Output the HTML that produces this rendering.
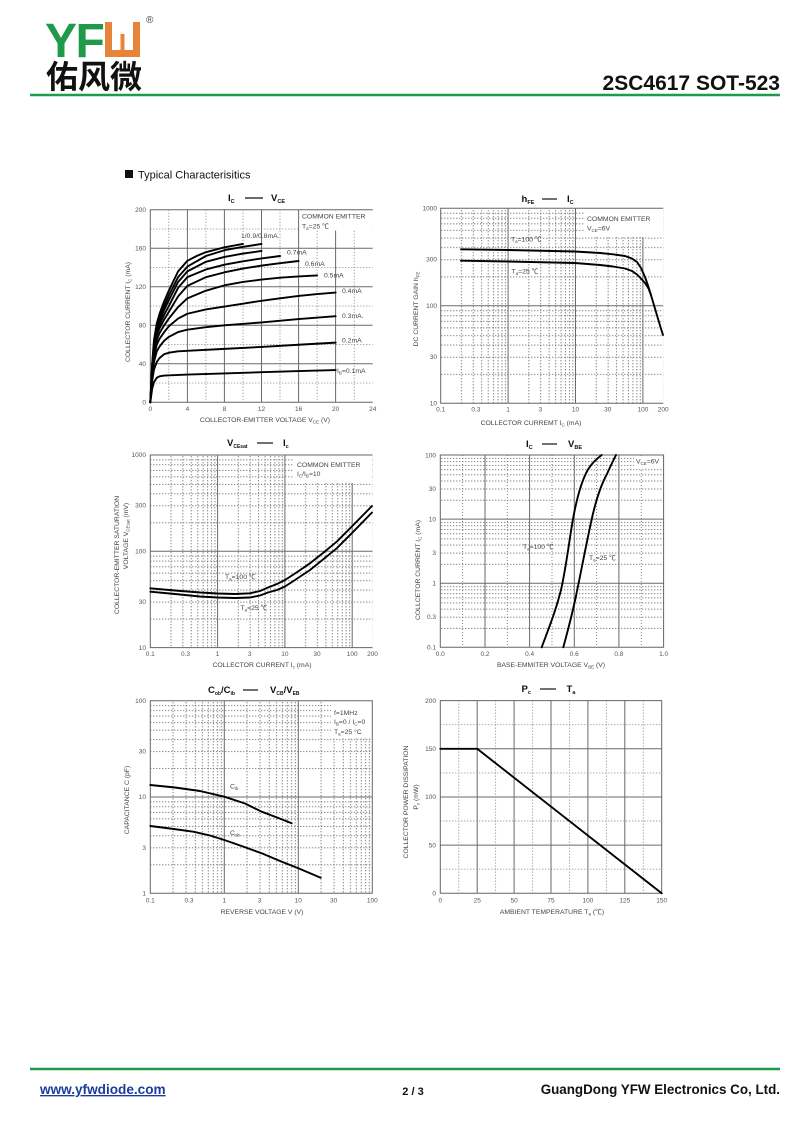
<!DOCTYPE html>
<html><head><meta charset="utf-8">
<style>
html,body{margin:0;padding:0;background:#fff;}
body{width:800px;height:1130px;overflow:hidden;}
svg{display:block;font-family:"Liberation Sans","Noto Sans CJK SC",sans-serif;}
.t{font-size:6.5px;fill:#555;}
.a{font-size:6.8px;fill:#444;}
.n{font-size:6.8px;fill:#444;}
.ti{font-size:9.5px;font-weight:bold;fill:#111;}
.mj{stroke:#6a6a6a;stroke-width:1;fill:none;}
.dt{stroke:#7a7a7a;stroke-width:0.9;stroke-dasharray:1 2;fill:none;}
.bx{stroke:#666;stroke-width:1;fill:none;}
.cv{stroke:#000;stroke-width:1.9;fill:none;stroke-linejoin:round;stroke-linecap:round;}
.cvs{stroke:#000;stroke-width:1.9;fill:none;stroke-linejoin:round;stroke-linecap:round;vector-effect:non-scaling-stroke;}
</style></head>
<body>
<svg width="800" height="1130" viewBox="0 0 800 1130" xmlns="http://www.w3.org/2000/svg">
<defs>
<pattern id="p2x" x="440.7" y="0" width="67.4" height="3" patternUnits="userSpaceOnUse">
<g fill="#7a7a7a"><rect x="20.29" y="0" width="0.9" height="1.4"/><rect x="32.16" y="0" width="0.9" height="1.4"/><rect x="40.58" y="0" width="0.9" height="1.4"/><rect x="47.11" y="0" width="0.9" height="1.4"/><rect x="52.45" y="0" width="0.9" height="1.4"/><rect x="56.96" y="0" width="0.9" height="1.4"/><rect x="60.87" y="0" width="0.9" height="1.4"/><rect x="64.32" y="0" width="0.9" height="1.4"/></g>
</pattern>
<pattern id="p2y" x="0" y="208.3" width="3" height="97.5" patternUnits="userSpaceOnUse">
<g fill="#7a7a7a"><rect y="68.15" x="0" height="0.9" width="1.4"/><rect y="50.98" x="0" height="0.9" width="1.4"/><rect y="38.80" x="0" height="0.9" width="1.4"/><rect y="29.35" x="0" height="0.9" width="1.4"/><rect y="21.63" x="0" height="0.9" width="1.4"/><rect y="15.10" x="0" height="0.9" width="1.4"/><rect y="9.45" x="0" height="0.9" width="1.4"/><rect y="4.46" x="0" height="0.9" width="1.4"/></g>
</pattern>
<pattern id="p3x" x="150.3" y="0" width="67.3" height="3" patternUnits="userSpaceOnUse">
<g fill="#7a7a7a"><rect x="20.26" y="0" width="0.9" height="1.4"/><rect x="32.11" y="0" width="0.9" height="1.4"/><rect x="40.52" y="0" width="0.9" height="1.4"/><rect x="47.04" y="0" width="0.9" height="1.4"/><rect x="52.37" y="0" width="0.9" height="1.4"/><rect x="56.88" y="0" width="0.9" height="1.4"/><rect x="60.78" y="0" width="0.9" height="1.4"/><rect x="64.22" y="0" width="0.9" height="1.4"/></g>
</pattern>
<pattern id="p3y" x="0" y="455" width="3" height="96.3" patternUnits="userSpaceOnUse">
<g fill="#7a7a7a"><rect y="67.31" x="0" height="0.9" width="1.4"/><rect y="50.35" x="0" height="0.9" width="1.4"/><rect y="38.32" x="0" height="0.9" width="1.4"/><rect y="28.99" x="0" height="0.9" width="1.4"/><rect y="21.36" x="0" height="0.9" width="1.4"/><rect y="14.92" x="0" height="0.9" width="1.4"/><rect y="9.33" x="0" height="0.9" width="1.4"/><rect y="4.41" x="0" height="0.9" width="1.4"/></g>
</pattern>
<pattern id="p4y" x="0" y="455" width="3" height="64.1" patternUnits="userSpaceOnUse">
<g fill="#7a7a7a"><rect y="44.80" x="0" height="0.9" width="1.4"/><rect y="33.52" x="0" height="0.9" width="1.4"/><rect y="25.51" x="0" height="0.9" width="1.4"/><rect y="19.30" x="0" height="0.9" width="1.4"/><rect y="14.22" x="0" height="0.9" width="1.4"/><rect y="9.93" x="0" height="0.9" width="1.4"/><rect y="6.21" x="0" height="0.9" width="1.4"/><rect y="2.93" x="0" height="0.9" width="1.4"/></g>
</pattern>
<pattern id="p5x" x="150.3" y="0" width="74" height="3" patternUnits="userSpaceOnUse">
<g fill="#7a7a7a"><rect x="22.28" y="0" width="0.9" height="1.4"/><rect x="35.31" y="0" width="0.9" height="1.4"/><rect x="44.55" y="0" width="0.9" height="1.4"/><rect x="51.72" y="0" width="0.9" height="1.4"/><rect x="57.58" y="0" width="0.9" height="1.4"/><rect x="62.54" y="0" width="0.9" height="1.4"/><rect x="66.83" y="0" width="0.9" height="1.4"/><rect x="70.61" y="0" width="0.9" height="1.4"/></g>
</pattern>
<pattern id="p5y" x="0" y="700.7" width="3" height="96.3" patternUnits="userSpaceOnUse">
<g fill="#7a7a7a"><rect y="67.31" x="0" height="0.9" width="1.4"/><rect y="50.35" x="0" height="0.9" width="1.4"/><rect y="38.32" x="0" height="0.9" width="1.4"/><rect y="28.99" x="0" height="0.9" width="1.4"/><rect y="21.36" x="0" height="0.9" width="1.4"/><rect y="14.92" x="0" height="0.9" width="1.4"/><rect y="9.33" x="0" height="0.9" width="1.4"/><rect y="4.41" x="0" height="0.9" width="1.4"/></g>
</pattern>
</defs>

<!-- HEADER -->
<text x="45" y="57" font-size="48" font-weight="bold" fill="#1e9a4a" style="letter-spacing:-1.5px">YF</text>
<path d="M105 22 H112 V50 H133 V22 H140 V57 H105 Z" fill="#e8843a"/>
<rect x="120.5" y="34" width="4" height="17" fill="#e8843a"/>
<text x="146" y="23" font-size="10" fill="#444">®</text>
<text x="46" y="88" font-size="32" font-weight="bold" fill="#111" font-family="'Noto Sans CJK SC','WenQuanYi Zen Hei',sans-serif">佑风微</text>
<text x="780" y="90" font-size="21" font-weight="bold" fill="#111" text-anchor="end">2SC4617  SOT-523</text>
<line x1="30" y1="95" x2="780" y2="95" stroke="#1e9a4a" stroke-width="2.5"/>

<rect x="125" y="170" width="8" height="8" fill="#111"/>
<text x="138" y="178.5" font-size="11" fill="#111">Typical  Characterisitics</text>

<!-- ============ CHART 1 ============ -->
<g>
<g class="dt">
<line x1="168.8" y1="209.8" x2="168.8" y2="402.3"/><line x1="205.9" y1="209.8" x2="205.9" y2="402.3"/><line x1="243" y1="209.8" x2="243" y2="402.3"/><line x1="280" y1="209.8" x2="280" y2="402.3"/><line x1="317.1" y1="209.8" x2="317.1" y2="402.3"/><line x1="354.2" y1="209.8" x2="354.2" y2="402.3"/>
<line x1="150.3" y1="383.05" x2="372.7" y2="383.05"/><line x1="150.3" y1="344.55" x2="372.7" y2="344.55"/><line x1="150.3" y1="306.05" x2="372.7" y2="306.05"/><line x1="150.3" y1="267.55" x2="372.7" y2="267.55"/><line x1="150.3" y1="229.05" x2="372.7" y2="229.05"/>
</g>
<g class="mj">
<line x1="187.4" y1="209.8" x2="187.4" y2="402.3"/><line x1="224.4" y1="209.8" x2="224.4" y2="402.3"/><line x1="261.5" y1="209.8" x2="261.5" y2="402.3"/><line x1="298.6" y1="209.8" x2="298.6" y2="402.3"/><line x1="335.6" y1="209.8" x2="335.6" y2="402.3"/>
<line x1="150.3" y1="363.8" x2="372.7" y2="363.8"/><line x1="150.3" y1="325.3" x2="372.7" y2="325.3"/><line x1="150.3" y1="286.8" x2="372.7" y2="286.8"/><line x1="150.3" y1="248.3" x2="372.7" y2="248.3"/>
</g>
<rect x="299.5" y="210.5" width="73" height="20" fill="#fff"/>
<path class="bx" d="M372.7 209.8 H150.3 V402.3 H372.7"/>
<g transform="translate(150.3,402.3) scale(9.267,-0.9625)">
<polyline class="cvs" points="0,0 0.2,40 0.4,65 0.7,82 1,92 1.5,105 2,116 3,136 4,147 5,152 6,156 8,161 10,164.5"/>
<polyline class="cvs" points="0,0 0.2,38 0.4,62 0.7,79 1,88 1.5,100 2,111 3,130 4,141 6,152 8,158 10,161.5 12,164.5"/>
<polyline class="cvs" points="0,0 0.2,36 0.4,60 0.7,76 1,85 1.5,96 2,106 3,125 4,136 6,146 8,151 10,154.5 12,157.2"/>
<polyline class="cvs" points="0,0 0.2,35 0.4,58 0.7,73 1,81 1.5,91 2,100 3,119 4,130 6,138 8,143 10,146.5 12,149.5 14,152"/>
<polyline class="cvs" points="0,0 0.2,34 0.4,55 0.7,70 1,77 1.5,86 2,94 3,110 4,121 6,130 8,135 10,139 12,142 14,144.5 16,146.8"/>
<polyline class="cvs" points="0,0 0.2,32 0.4,52 0.7,65 1,72 1.5,80 2,87 3,99 4,108 6,116 8,121.5 10,125 12,127.5 14,129.5 16,130.8 18,131.8"/>
<polyline class="cvs" points="0,0 0.2,30 0.4,48 0.7,60 1,66 1.5,73 2,79 3,87 4,92 6,96.5 8,99.5 10,102.5 12,105.5 14,108 16,110.5 18,112.5 20,114"/>
<polyline class="cvs" points="0,0 0.2,27 0.4,42 0.7,53 1,58 1.5,64 2,68 3,73 4,75.5 6,78 8,80 12,83 16,86.5 20,89.5"/>
<polyline class="cvs" points="0,0 0.2,22 0.4,34 0.7,42 1,46 1.5,50 2,51.5 3,53 4,53.5 8,55.5 12,57.5 16,59.8 20,62"/>
<polyline class="cvs" points="0,0 0.2,14 0.4,21 0.7,25.5 1,27 1.5,27.8 4,28.8 8,30 12,31.3 16,32.5 20,33.5"/>
</g>
<g class="t" text-anchor="end">
<text x="146" y="212">200</text><text x="146" y="250.5">160</text><text x="146" y="289">120</text><text x="146" y="327.5">80</text><text x="146" y="366">40</text><text x="146" y="404.5">0</text>
</g>
<g class="t" text-anchor="middle">
<text x="150.3" y="411">0</text><text x="187.4" y="411">4</text><text x="224.4" y="411">8</text><text x="261.5" y="411">12</text><text x="298.6" y="411">16</text><text x="335.6" y="411">20</text><text x="372.7" y="411">24</text>
</g>
<g class="n">
<text x="302" y="218.5">COMMON EMITTER</text>
<text x="302" y="228.5">T<tspan font-size="4.5" dy="1.5">a</tspan><tspan dy="-1.5">=25 ℃</tspan></text>
<text x="241" y="238">1/0.9/0.8mA.</text>
<text x="287" y="254.5">0.7mA</text>
<text x="305" y="266">0.6mA</text>
<text x="324" y="277.5">0.5mA</text>
<text x="342" y="293">0.4mA</text>
<text x="342" y="318">0.3mA.</text>
<text x="342" y="342.5">0.2mA</text>
<text x="337" y="373">I<tspan font-size="4.5" dy="1.5">B</tspan><tspan dy="-1.5">=0.1mA</tspan></text>
</g>
<text class="ti" x="228" y="201">I<tspan font-size="5.5" dy="2">C</tspan></text>
<line x1="245" y1="198" x2="263" y2="198" stroke="#111" stroke-width="1.2"/>
<text class="ti" x="271" y="201">V<tspan font-size="5.5" dy="2">CE</tspan></text>
<text class="a" transform="translate(130,312) rotate(-90)" text-anchor="middle">COLLECTOR CURRENT    I<tspan font-size="4.5" dy="1.5">C</tspan><tspan dy="-1.5">    (mA)</tspan></text>
<text class="a" x="265" y="422" text-anchor="middle">COLLECTOR-EMITTER VOLTAGE    V<tspan font-size="4.5" dy="1.5">CE</tspan><tspan dy="-1.5">    (V)</tspan></text>
</g>

<!-- ============ CHART 2 ============ -->
<g>
<rect x="440.7" y="208.3" width="222.5" height="195" fill="url(#p2x)"/>
<rect x="440.7" y="208.3" width="222.5" height="195" fill="url(#p2y)"/>
<rect x="584" y="209" width="78.7" height="27" fill="#fff"/>
<g class="mj">
<line x1="508.1" y1="208.3" x2="508.1" y2="403.3"/><line x1="575.5" y1="208.3" x2="575.5" y2="403.3"/><line x1="642.9" y1="237" x2="642.9" y2="403.3"/>
<line x1="440.7" y1="305.8" x2="663.2" y2="305.8"/>
</g>
<path class="bx" d="M663.2 208.3 H440.7 V403.3 H663.2"/>
<polyline class="cv" points="461,249.3 508,250 575,251.5 600,253 613,254.3 625,256 632,258.5 637,262 641,268 645,277 648.5,287 652,298.5 656,312 660,325.5 663,335"/>
<polyline class="cv" points="461,260.7 508,261.5 575,263 600,265 613,266.5 625,268.5 632,271 637,274.5 641,278.5 645,283 648.5,288.5 651,295"/>
<g class="t" text-anchor="end">
<text x="437" y="210.5">1000</text><text x="437" y="261.5">300</text><text x="437" y="308">100</text><text x="437" y="359">30</text><text x="437" y="405.5">10</text>
</g>
<g class="t" text-anchor="middle">
<text x="440.7" y="411.5">0.1</text><text x="475.9" y="411.5">0.3</text><text x="508.1" y="411.5">1</text><text x="540.3" y="411.5">3</text><text x="575.5" y="411.5">10</text><text x="607.7" y="411.5">30</text><text x="642.9" y="411.5">100</text><text x="663.2" y="411.5">200</text>
</g>
<g class="n">
<text x="587" y="221">COMMON EMITTER</text>
<text x="587" y="230.5">V<tspan font-size="4.5" dy="1.5">CE</tspan><tspan dy="-1.5">=6V</tspan></text>
<text x="511" y="241.5">T<tspan font-size="4.5" dy="1.5">a</tspan><tspan dy="-1.5">=100 ℃</tspan></text>
<text x="511.5" y="273.5">T<tspan font-size="4.5" dy="1.5">a</tspan><tspan dy="-1.5">=25 ℃</tspan></text>
</g>
<text class="ti" x="521.5" y="202">h<tspan font-size="5.5" dy="2">FE</tspan></text>
<line x1="542" y1="199" x2="557" y2="199" stroke="#111" stroke-width="1.2"/>
<text class="ti" x="567" y="202">I<tspan font-size="5.5" dy="2">C</tspan></text>
<text class="a" transform="translate(418,309) rotate(-90)" text-anchor="middle">DC CURRENT GAIN    h<tspan font-size="4.5" dy="1.5">FE</tspan></text>
<text class="a" x="531" y="425" text-anchor="middle">COLLECTOR CURREMT    I<tspan font-size="4.5" dy="1.5">C</tspan><tspan dy="-1.5">    (mA)</tspan></text>
</g>

<!-- ============ CHART 3 ============ -->
<g>
<rect x="150.3" y="455" width="222.2" height="192.6" fill="url(#p3x)"/>
<rect x="150.3" y="455" width="222.2" height="192.6" fill="url(#p3y)"/>
<rect x="293" y="456" width="79" height="27" fill="#fff"/>
<g class="mj">
<line x1="217.6" y1="455" x2="217.6" y2="647.6"/><line x1="284.9" y1="455" x2="284.9" y2="647.6"/><line x1="352.2" y1="483" x2="352.2" y2="647.6"/>
<line x1="150.3" y1="551.3" x2="372.5" y2="551.3"/>
</g>
<path class="bx" d="M372.5 455 H150.3 V647.6 H372.5"/>
<polyline class="cv" points="150.3,588.3 175,590.5 200,592.5 217.6,593.5 235,594 250,593.3 260,591 268,587.5 277,584 285,580 295,573.5 310,563.3 323,553 336.7,541.7 353.3,525 372,506"/>
<polyline class="cv" points="150.3,591.7 175,594 200,596.5 217.6,597.5 235,598 250,597.5 260,595.5 268,592.5 277,590 285,586.5 295,580 310,570 323,559.5 336.7,548.3 353.3,531.7 372,512.5"/>
<g class="t" text-anchor="end">
<text x="146" y="457">1000</text><text x="146" y="507.5">300</text><text x="146" y="553.5">100</text><text x="146" y="604">30</text><text x="146" y="650">10</text>
</g>
<g class="t" text-anchor="middle">
<text x="150.3" y="656">0.1</text><text x="185.5" y="656">0.3</text><text x="217.6" y="656">1</text><text x="249.7" y="656">3</text><text x="284.9" y="656">10</text><text x="317" y="656">30</text><text x="352.2" y="656">100</text><text x="372.5" y="656">200</text>
</g>
<g class="n">
<text x="297" y="467">COMMON EMITTER</text>
<text x="297" y="476">I<tspan font-size="4.5" dy="1.5">C</tspan><tspan dy="-1.5">/I</tspan><tspan font-size="4.5" dy="1.5">B</tspan><tspan dy="-1.5">=10</tspan></text>
<text x="225" y="579">T<tspan font-size="4.5" dy="1.5">a</tspan><tspan dy="-1.5">=100 ℃</tspan></text>
<text x="240.5" y="610">T<tspan font-size="4.5" dy="1.5">a</tspan><tspan dy="-1.5">=25 ℃</tspan></text>
</g>
<text class="ti" x="227" y="446">V<tspan font-size="5" dy="2">CEsat</tspan></text>
<line x1="257" y1="443" x2="273" y2="443" stroke="#111" stroke-width="1.2"/>
<text class="ti" x="283" y="446">I<tspan font-size="5.5" dy="2">c</tspan></text>
<text class="a" transform="translate(119,555) rotate(-90)" text-anchor="middle">COLLECTOR-EMITTER SATURATION</text>
<text class="a" transform="translate(128,536) rotate(-90)" text-anchor="middle">VOLTAGE    V<tspan font-size="4.5" dy="1.5">CEsat</tspan><tspan dy="-1.5">    (mV)</tspan></text>
<text class="a" x="262" y="667" text-anchor="middle">COLLECTOR CURRENT    I<tspan font-size="4.5" dy="1.5">c</tspan><tspan dy="-1.5">    (mA)</tspan></text>
</g>

<!-- ============ CHART 4 ============ -->
<g>
<rect x="440.3" y="455" width="223.3" height="192.3" fill="url(#p4y)"/>
<g class="dt">
<line x1="462.6" y1="455" x2="462.6" y2="647.3"/><line x1="507.3" y1="455" x2="507.3" y2="647.3"/><line x1="552" y1="455" x2="552" y2="647.3"/><line x1="596.6" y1="455" x2="596.6" y2="647.3"/><line x1="641.3" y1="455" x2="641.3" y2="647.3"/>
</g>
<rect x="634" y="456" width="29" height="12" fill="#fff"/>
<g class="mj">
<line x1="485" y1="455" x2="485" y2="647.3"/><line x1="529.6" y1="455" x2="529.6" y2="647.3"/><line x1="574.3" y1="455" x2="574.3" y2="647.3"/><line x1="618.9" y1="455" x2="618.9" y2="647.3"/>
<line x1="440.3" y1="519.1" x2="663.6" y2="519.1"/><line x1="440.3" y1="583.2" x2="663.6" y2="583.2"/>
</g>
<path class="bx" d="M440.3 455 H663.6 V647.3 H440.3 Z"/>
<path class="cv" d="M541.7 647.3 C550 625 556 610 561 590 C566 568 569 542 573 519 C577 497 582 480 588 469.5 C592 463 597 458.5 601.7 455"/>
<path class="cv" d="M563.3 647.3 C568 630 572 615 576 596 C581 572 586 545 592 518 C596 500 601 485 607 474 C610 467 613 461 616 455"/>
<g class="t" text-anchor="end">
<text x="436" y="457.5">100</text><text x="436" y="491">30</text><text x="436" y="521.5">10</text><text x="436" y="555">3</text><text x="436" y="585.5">1</text><text x="436" y="619">0.3</text><text x="436" y="649.5">0.1</text>
</g>
<g class="t" text-anchor="middle">
<text x="440.3" y="656">0.0</text><text x="485" y="656">0.2</text><text x="529.6" y="656">0.4</text><text x="574.3" y="656">0.6</text><text x="618.9" y="656">0.8</text><text x="663.6" y="656">1.0</text>
</g>
<g class="n">
<text x="636" y="463.5">V<tspan font-size="4.5" dy="1.5">CE</tspan><tspan dy="-1.5">=6V</tspan></text>
<text x="523" y="549">T<tspan font-size="4.5" dy="1.5">a</tspan><tspan dy="-1.5">=100 ℃</tspan></text>
<text x="589" y="560">T<tspan font-size="4.5" dy="1.5">a</tspan><tspan dy="-1.5">=25 ℃</tspan></text>
</g>
<text class="ti" x="526" y="447">I<tspan font-size="5.5" dy="2">C</tspan></text>
<line x1="542" y1="444" x2="557" y2="444" stroke="#111" stroke-width="1.2"/>
<text class="ti" x="568" y="447">V<tspan font-size="5.5" dy="2">BE</tspan></text>
<text class="a" transform="translate(420,570) rotate(-90)" text-anchor="middle">COLLCETOR CURRENT    I<tspan font-size="4.5" dy="1.5">C</tspan><tspan dy="-1.5">    (mA)</tspan></text>
<text class="a" x="551" y="667" text-anchor="middle">BASE-EMMITER VOLTAGE    V<tspan font-size="4.5" dy="1.5">BE</tspan><tspan dy="-1.5">    (V)</tspan></text>
</g>

<!-- ============ CHART 5 ============ -->
<g>
<rect x="150.3" y="700.7" width="222" height="192.6" fill="url(#p5x)"/>
<rect x="150.3" y="700.7" width="222" height="192.6" fill="url(#p5y)"/>
<rect x="331" y="701.5" width="41" height="37" fill="#fff"/>
<g class="mj">
<line x1="224.3" y1="700.7" x2="224.3" y2="893.3"/><line x1="298.3" y1="700.7" x2="298.3" y2="893.3"/>
<line x1="150.3" y1="797" x2="372.3" y2="797"/>
</g>
<path class="bx" d="M150.3 700.7 H372.3 V893.3 H150.3 Z"/>
<polyline class="cv" points="150.3,785 175,787.5 200,791 224.3,796.7 245,803.5 261.7,811.7 277,817.5 291.7,823.3"/>
<polyline class="cv" points="150.3,826 170,828.5 193.3,831.7 210,835.5 224.3,840 243,846.5 261.7,853.3 280,861 298.3,868.3 320.7,877.7"/>
<g class="t" text-anchor="end">
<text x="146" y="703">100</text><text x="146" y="753.5">30</text><text x="146" y="799">10</text><text x="146" y="850">3</text><text x="146" y="895.5">1</text>
</g>
<g class="t" text-anchor="middle">
<text x="150.3" y="902.5">0.1</text><text x="189" y="902.5">0.3</text><text x="224.3" y="902.5">1</text><text x="259.6" y="902.5">3</text><text x="298.3" y="902.5">10</text><text x="333.6" y="902.5">30</text><text x="372.3" y="902.5">100</text>
</g>
<g class="n">
<text x="334" y="715">f=1MHz</text>
<text x="334" y="724">I<tspan font-size="4.5" dy="1.5">B</tspan><tspan dy="-1.5">=0 / I</tspan><tspan font-size="4.5" dy="1.5">C</tspan><tspan dy="-1.5">=0</tspan></text>
<text x="334" y="734">T<tspan font-size="4.5" dy="1.5">a</tspan><tspan dy="-1.5">=25 °C</tspan></text>
<text x="230" y="788.5">C<tspan font-size="4.5" dy="1.5">ib</tspan></text>
<text x="230" y="835">C<tspan font-size="4.5" dy="1.5">ob</tspan></text>
</g>
<text class="ti" x="208" y="693">C<tspan font-size="5" dy="2">ob</tspan><tspan dy="-2">/C</tspan><tspan font-size="5" dy="2">ib</tspan></text>
<line x1="243" y1="690" x2="258" y2="690" stroke="#111" stroke-width="1.2"/>
<text class="ti" x="270" y="693">V<tspan font-size="5" dy="2">CB</tspan><tspan dy="-2">/V</tspan><tspan font-size="5" dy="2">EB</tspan></text>
<text class="a" transform="translate(129,800) rotate(-90)" text-anchor="middle">CAPACITANCE    C    (pF)</text>
<text class="a" x="262" y="914" text-anchor="middle">REVERSE VOLTAGE    V    (V)</text>
</g>

<!-- ============ CHART 6 ============ -->
<g>
<g class="dt">
<line x1="458.75" y1="700.6" x2="458.75" y2="893.3"/><line x1="495.6" y1="700.6" x2="495.6" y2="893.3"/><line x1="532.6" y1="700.6" x2="532.6" y2="893.3"/><line x1="569.5" y1="700.6" x2="569.5" y2="893.3"/><line x1="606.4" y1="700.6" x2="606.4" y2="893.3"/><line x1="643.3" y1="700.6" x2="643.3" y2="893.3"/>
<line x1="440.3" y1="869.2" x2="661.7" y2="869.2"/><line x1="440.3" y1="821" x2="661.7" y2="821"/><line x1="440.3" y1="772.9" x2="661.7" y2="772.9"/><line x1="440.3" y1="724.7" x2="661.7" y2="724.7"/>
</g>
<g class="mj">
<line x1="477.2" y1="700.6" x2="477.2" y2="893.3"/><line x1="514.1" y1="700.6" x2="514.1" y2="893.3"/><line x1="551" y1="700.6" x2="551" y2="893.3"/><line x1="587.9" y1="700.6" x2="587.9" y2="893.3"/><line x1="624.8" y1="700.6" x2="624.8" y2="893.3"/>
<line x1="440.3" y1="845.1" x2="661.7" y2="845.1"/><line x1="440.3" y1="796.95" x2="661.7" y2="796.95"/><line x1="440.3" y1="748.8" x2="661.7" y2="748.8"/>
</g>
<path class="bx" d="M440.3 700.6 H661.7 V893.3 H440.3 Z"/>
<polyline class="cv" points="440.3,748.8 477.2,748.8 661.7,893.3"/>
<g class="t" text-anchor="end">
<text x="436" y="703">200</text><text x="436" y="751">150</text><text x="436" y="799">100</text><text x="436" y="847.5">50</text><text x="436" y="895.5">0</text>
</g>
<g class="t" text-anchor="middle">
<text x="440.3" y="902.5">0</text><text x="477.2" y="902.5">25</text><text x="514.1" y="902.5">50</text><text x="551" y="902.5">75</text><text x="587.9" y="902.5">100</text><text x="624.8" y="902.5">125</text><text x="661.7" y="902.5">150</text>
</g>
<text class="ti" x="521.5" y="692">P<tspan font-size="5.5" dy="2">c</tspan></text>
<line x1="540" y1="689" x2="556" y2="689" stroke="#111" stroke-width="1.2"/>
<text class="ti" x="566.5" y="692">T<tspan font-size="5.5" dy="2">a</tspan></text>
<text class="a" transform="translate(408,802) rotate(-90)" text-anchor="middle">COLLECTOR POWER DISSIPATION</text>
<text class="a" transform="translate(418,797) rotate(-90)" text-anchor="middle">P<tspan font-size="4.5" dy="1.5">c</tspan><tspan dy="-1.5">    (mW)</tspan></text>
<text class="a" x="552" y="914" text-anchor="middle">AMBIENT TEMPERATURE    T<tspan font-size="4.5" dy="1.5">a</tspan><tspan dy="-1.5">    (℃)</tspan></text>
</g>

<!-- FOOTER -->
<line x1="30" y1="1069" x2="780" y2="1069" stroke="#1e9a4a" stroke-width="2.5"/>
<text x="40" y="1094" font-size="13.6" font-weight="bold" fill="#1a3c9c" text-decoration="underline">www.yfwdiode.com</text>
<text x="413" y="1095" font-size="11" font-weight="bold" fill="#111" text-anchor="middle">2 / 3</text>
<text x="780" y="1094" font-size="13.4" font-weight="bold" fill="#111" text-anchor="end">GuangDong YFW Electronics Co, Ltd.</text>
</svg>
</body></html>
